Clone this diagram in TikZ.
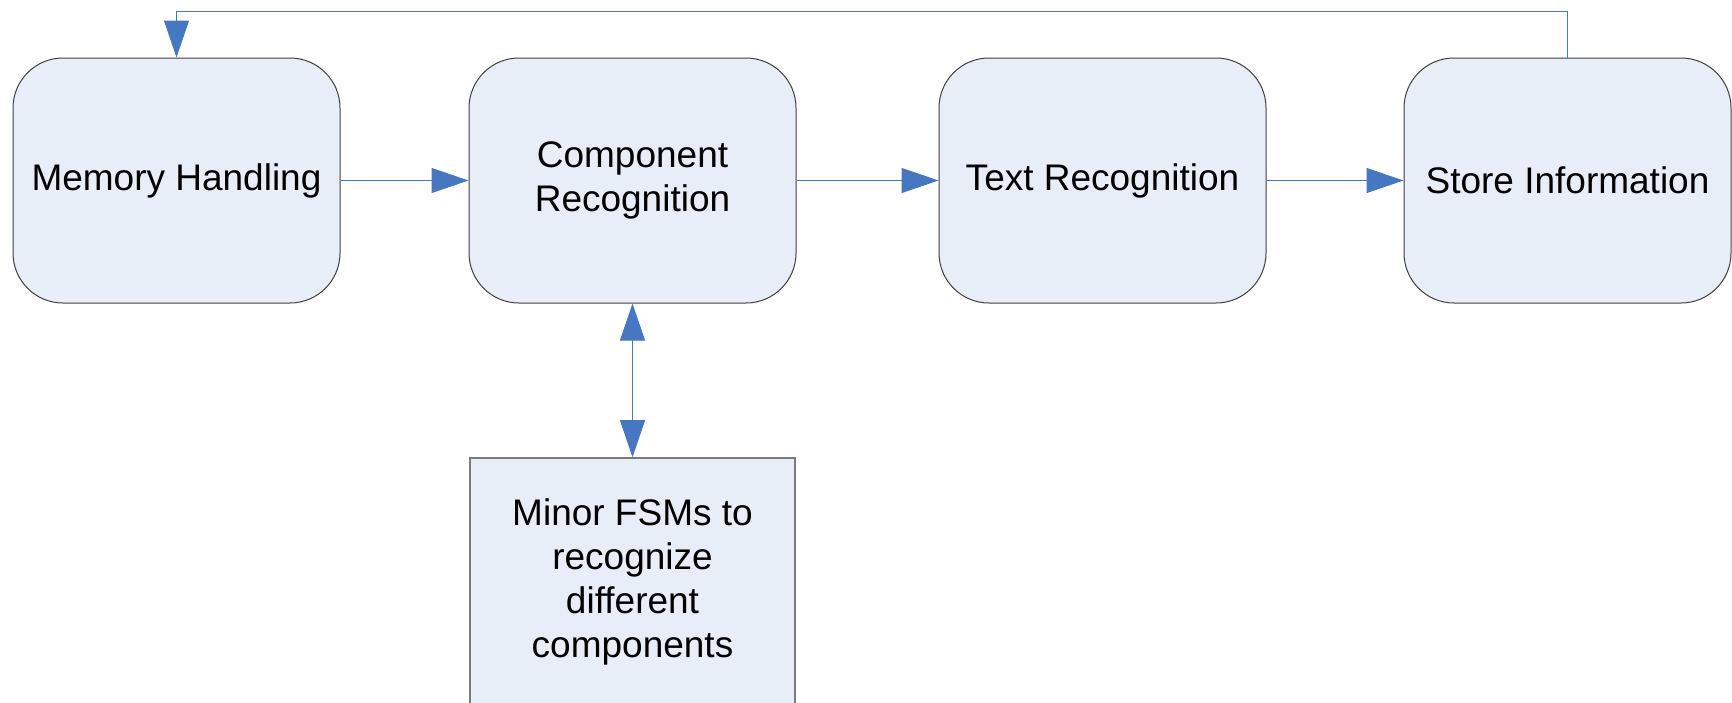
\documentclass[tikz,border=0pt]{standalone}
\usepackage{fontspec}
\setmainfont{Liberation Sans}
\usetikzlibrary{arrows.meta}

\definecolor{blkfill}{HTML}{E8EEF8}
\definecolor{linkblue}{HTML}{4677C2}
\definecolor{edgegray}{HTML}{3F3F3F}
\definecolor{subgray}{HTML}{7A7A7A}

\begin{document}
\begin{tikzpicture}[x=0.5pt,y=-0.5pt,
  stateblk/.style={draw=edgegray, line width=0.5pt, fill=blkfill, rounded corners=25pt,
    minimum width=163.5pt, minimum height=122.5pt, inner sep=0pt, align=center,
    font=\fontsize{18.5}{22}\selectfont},
  subblk/.style={draw=subgray, line width=0.8pt, fill=blkfill,
    minimum width=162.5pt, minimum height=124pt, inner sep=0pt, align=center,
    font=\fontsize{18.5}{22}\selectfont},
  flowarrow/.style={draw=linkblue, line width=0.5pt, -{Triangle[length=18.5pt,width=12.5pt]}}
]

% frame of the picture
\useasboundingbox (0,0) rectangle (1732,702);
\clip (0,0) rectangle (1732,702);

% main chain of blocks
\node[stateblk] (mem) at (176.5,180.5) {Memory Handling};
\node[stateblk] (comp) at (632.5,180.5) {Component\\Recognition};
\node[stateblk] (text) at (1102.5,180.5) {Text Recognition};
\node[stateblk] (store) at (1567.5,180.5) {Store Information};

% sub-machines below component recognition
\node[subblk] (minor) at (632.5,582) {Minor FSMs to\\recognize\\different\\components};

% arrows between blocks
\draw[flowarrow] (mem.east) -- (comp.west);
\draw[flowarrow] (comp.east) -- (text.west);
\draw[flowarrow] (text.east) -- (store.west);

% two-way link to minor FSMs
\draw[flowarrow, {Triangle[length=18.5pt,width=12.5pt]}-{Triangle[length=18.5pt,width=12.5pt]}] (comp.south) -- (minor.north);

% loop back from store to memory
\coordinate (looptop) at (0,11);
\draw[flowarrow] (store.north) |- (looptop -| mem.north) -- (mem.north);

\end{tikzpicture}
\end{document}
